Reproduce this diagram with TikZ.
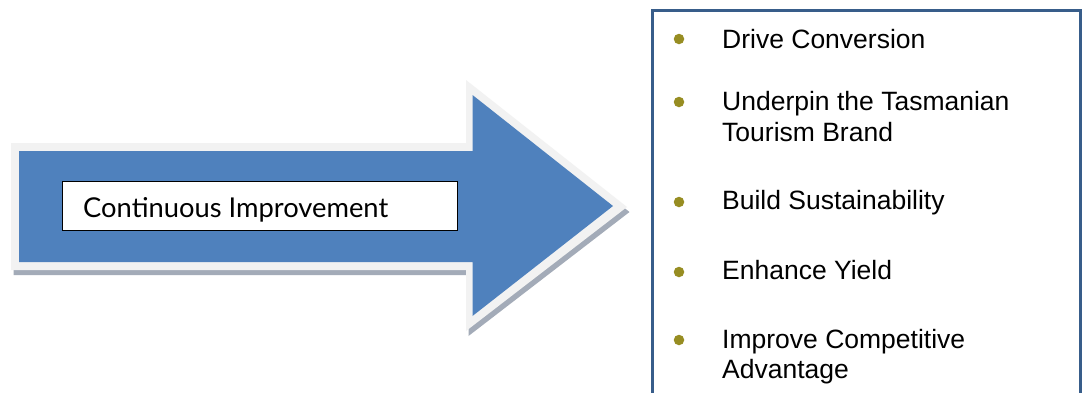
\documentclass[tikz,border=0pt]{standalone}
\usepackage{fontspec}
\setmainfont{Liberation Sans}
\newfontfamily\gillfont{Lato}
\definecolor{arrowblue}{HTML}{4F81BD}
\definecolor{rimgray}{HTML}{F2F2F2}
\definecolor{shadowgray}{HTML}{A3ABB8}
\definecolor{frameblue}{HTML}{385D8A}
\definecolor{bulletolive}{HTML}{978D22}
\tikzset{
  bulletdot/.style={circle, fill=bulletolive, minimum size=10.5pt, inner sep=0pt},
  itemtext/.style={anchor=base west, inner sep=0pt, font=\fontsize{26.5}{31}\selectfont},
}
\begin{document}
\begin{tikzpicture}[x=1pt,y=-1pt]
\useasboundingbox (0,0) rectangle (1088,392);
\fill[white] (0,0) rectangle (1088,392);
% arrow: shadow, rim, body
\fill[shadowgray, shift={(2.5,5)}] (11,143) -- (466,143) -- (466,80) -- (627,207) -- (466,331) -- (466,270) -- (11,270) -- cycle;
\fill[rimgray] (11,143) -- (466,143) -- (466,80) -- (627,207) -- (466,331) -- (466,270) -- (11,270) -- cycle;
\fill[arrowblue] (19,151) -- (472.5,151) -- (472.5,95) -- (613,206) -- (472.5,316) -- (472.5,262) -- (19,262) -- cycle;
% label box
\node[draw=black, line width=1.4pt, fill=white, anchor=north west, minimum width=395.5pt, minimum height=49pt, inner sep=0pt] (cibox) at (61.5,180.5) {};
\node[anchor=base west, inner sep=0pt] (citext) at (83,217) {\resizebox{305pt}{!}{\gillfont Continuous Improvement}};
% right frame
\draw[frameblue, line width=3pt] (652,10) rectangle (1080,410);
% list
\node[bulletdot] (b1) at (679,39) {};
\node[itemtext] (t1) at (722,48) {Drive Conversion};
\node[bulletdot] (b2) at (679,102) {};
\node[itemtext] (t2a) at (722,110) {Underpin the Tasmanian};
\node[itemtext] (t2b) at (722,141) {Tourism Brand};
\node[bulletdot] (b3) at (679,202) {};
\node[itemtext] (t3) at (722,209) {Build Sustainability};
\node[bulletdot] (b4) at (679,272) {};
\node[itemtext] (t4) at (722,279) {Enhance Yield};
\node[bulletdot] (b5) at (679,340) {};
\node[itemtext] (t5a) at (722,348) {Improve Competitive};
\node[itemtext] (t5b) at (722,378) {Advantage};
\end{tikzpicture}
\end{document}
